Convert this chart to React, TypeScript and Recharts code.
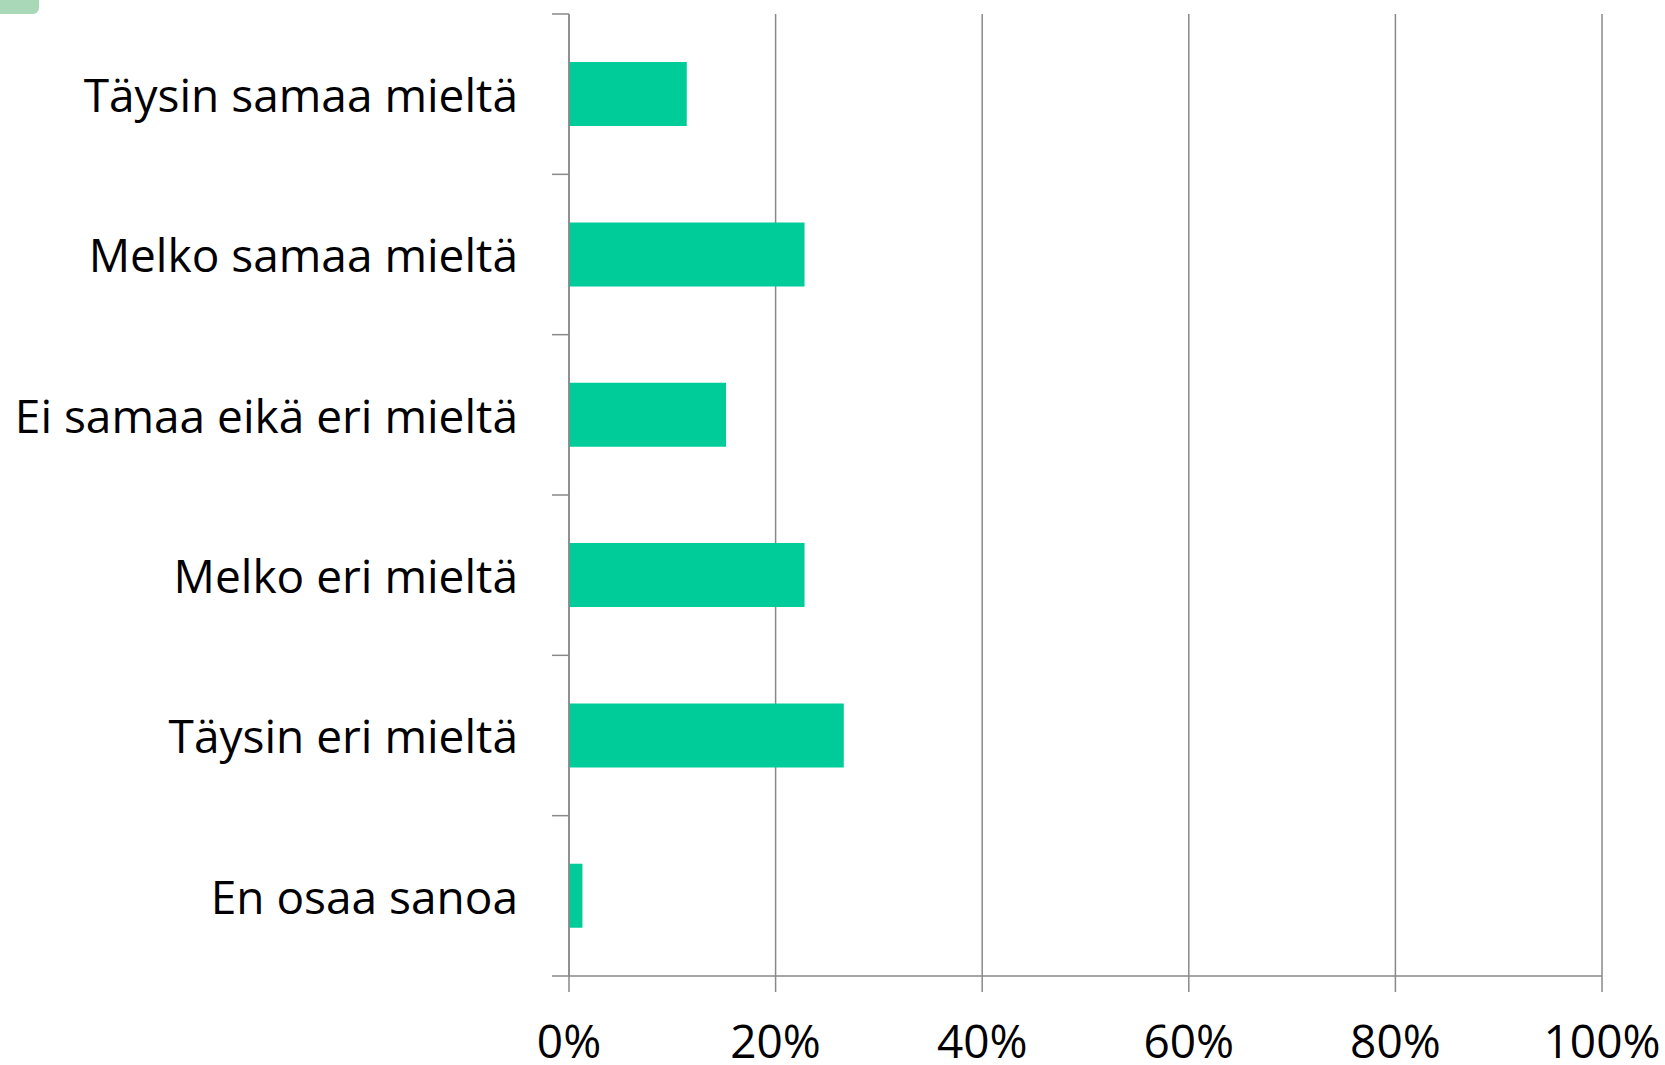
import React from 'react';
import { BarChart, Bar, XAxis, YAxis, CartesianGrid } from 'recharts';

// survey answers, share of respondents (%)
const categories = [
  'Täysin samaa mieltä',
  'Melko samaa mieltä',
  'Ei samaa eikä eri mieltä',
  'Melko eri mieltä',
  'Täysin eri mieltä',
  'En osaa sanoa',
];
const shares = [11.4, 22.8, 15.2, 22.8, 26.6, 1.3];
const xTicks = [0, 20, 40, 60, 80, 100];

const data = categories.map((name, i) => ({ name, value: shares[i] }));

const AXIS = '#898989';
const FONT = '"Open Sans", Lato, sans-serif';
const FONT_SIZE = 46;
const TICK_LEN = 17;
const LABEL_GAP = 34;

// category label + tick marks drawn between categories (excel style)
const CategoryTick = (props: any) => {
  const { x, y, payload, index } = props;
  const half = payload?.offset ?? 80;
  const axisX = x + TICK_LEN + LABEL_GAP;
  return (
    <g>
      <line x1={axisX - TICK_LEN} x2={axisX} y1={y - half} y2={y - half} stroke={AXIS} strokeWidth={1.5} />
      {index === categories.length - 1 && (
        <line x1={axisX - TICK_LEN} x2={axisX} y1={y + half} y2={y + half} stroke={AXIS} strokeWidth={1.5} />
      )}
      <text x={x} y={y} dy="0.39em" textAnchor="end" fill="#000" fontSize={FONT_SIZE} fontFamily={FONT}>
        {payload.value}
      </text>
    </g>
  );
};

const App: React.FC = () => {
  return (
    <div style={{ position: 'absolute', left: 0, top: 0, width: 1665, height: 1065, background: '#fff' }}>
      <div style={{ position: 'absolute', left: 0, top: 0, width: 39, height: 14, background: '#a9d8b9', borderBottomRightRadius: 6 }} />
      <BarChart
        width={1665}
        height={1065}
        data={data}
        layout="vertical"
        margin={{ top: 14, right: 63, left: 0, bottom: 0 }}
        barCategoryGap="30%"
      >
        <CartesianGrid horizontal={false} vertical stroke={AXIS} strokeWidth={1.5} />
        <XAxis
          type="number"
          domain={[0, 100]}
          ticks={xTicks}
          interval={0}
          height={89}
          tickFormatter={(v: number) => `${v}%`}
          tick={{ fill: '#000', fontSize: FONT_SIZE, fontFamily: FONT }}
          tickSize={16}
          tickMargin={33}
          axisLine={{ stroke: AXIS, strokeWidth: 1.5 }}
          tickLine={{ stroke: AXIS, strokeWidth: 1.5 }}
        />
        <YAxis
          type="category"
          dataKey="name"
          width={569}
          interval={0}
          tickSize={TICK_LEN}
          tickMargin={LABEL_GAP}
          tickLine={false}
          axisLine={{ stroke: AXIS, strokeWidth: 1.5 }}
          tick={<CategoryTick />}
        />
        <Bar dataKey="value" fill="#00cc99" isAnimationActive={false} />
      </BarChart>
    </div>
  );
};

export default App;
